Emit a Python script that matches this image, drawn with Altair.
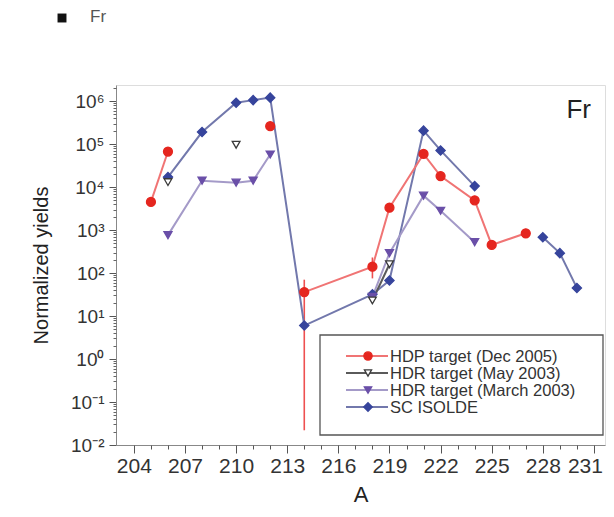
import altair as alt
import pandas as pd

# ---------------- data ----------------
A_HDP = [205, 206, 212, 214, 218, 219, 221, 222, 224, 225, 227]
Y_HDP = [4.5e3, 6.7e4, 2.6e5, 36, 140, 3.3e3, 5.9e4, 1.8e4, 4.9e3, 450, 840]
SEG_HDP = [0, 0, 1, 2, 2, 2, 2, 2, 2, 2, 2]

ERR_A = [214, 218]
ERR_LO = [0.022, 75]
ERR_HI = [70, 230]

A_MAY = [206, 210, 218, 219]
Y_MAY = [1.3e4, 9.6e4, 23, 160]
SEG_MAY = [0, 1, 2, 2]

A_MAR = [206, 208, 210, 211, 212, 218, 219, 221, 222, 224]
Y_MAR = [760, 1.4e4, 1.26e4, 1.4e4, 5.7e4, 28, 290, 6.3e3, 2.8e3, 520]
SEG_MAR = [0, 0, 0, 0, 0, 1, 1, 1, 1, 1]

A_SC = [206, 208, 210, 211, 212, 214, 218, 219, 221, 222, 224, 228, 229, 230]
Y_SC = [1.7e4, 1.9e5, 9.1e5, 1.05e6, 1.2e6, 6, 32, 67, 2.05e5, 7.1e4, 1.05e4, 680, 290, 45]
SEG_SC = [0, 0, 0, 0, 0, 0, 0, 0, 0, 0, 0, 1, 1, 1]

LABELS = ["HDP target (Dec 2005)", "HDR target (May 2003)",
          "HDR target (March 2003)", "SC ISOLDE"]
X_MAJOR = list(range(204, 232, 3))
X_MINOR = list(range(204, 232))
Y_MAJOR = [10.0 ** e for e in range(-2, 7)]
Y_MINOR = [k * 10.0 ** e for e in range(-2, 7) for k in range(2, 10) if k * 10.0 ** e <= 2.3e6]
SUP = ["⁻²", "⁻¹", "⁰", "¹", "²", "³", "⁴", "⁵", "⁶"]

# ---------------- styling ----------------
W, H = 489, 360
FONT = "Liberation Sans"
xs = alt.Scale(domain=[202.95, 231.65], nice=False, zero=False)
ys = alt.Scale(type="log", domain=[0.01, 2.36e6], nice=False)

STY = {
    LABELS[0]: dict(line="#f07474", pt="#e5261f", fill="#e5261f", shape="circle", size=80),
    LABELS[1]: dict(line="#5a5a5a", pt="#3a3a3a", fill="white", shape="triangle-down", size=60),
    LABELS[2]: dict(line="#a49ac8", pt="#6a4fa8", fill="#6a4fa8", shape="triangle-down", size=65),
    LABELS[3]: dict(line="#7278ac", pt="#36449c", fill="#36449c", shape="diamond", size=85),
}

def df(a, y, seg):
    return pd.DataFrame({"A": a, "Y": y, "seg": seg})

series = [
    (LABELS[3], df(A_SC, Y_SC, SEG_SC)),
    (LABELS[2], df(A_MAR, Y_MAR, SEG_MAR)),
    (LABELS[1], df(A_MAY, Y_MAY, SEG_MAY)),
    (LABELS[0], df(A_HDP, Y_HDP, SEG_HDP)),
]

y_label_expr = "'10' + " + "[" + ",".join("'%s'" % s for s in SUP) + "][round(log(datum.value)/LN10)+2]"

x_major = alt.Axis(values=X_MAJOR, tickSize=8, labelFontSize=21,
                   labelOffset={"condition": {"test": "datum.value == 231", "value": -9}, "value": 0},
                   labelColor="#333", labelFont=FONT, title="A", titleFont=FONT,
                   titleFontSize=22, titleFontWeight="normal", titleColor="#222",
                   titlePadding=8, domainColor="#888", tickColor="#555", grid=False,
                   labelPadding=2, orient="bottom")
y_major = alt.Axis(values=Y_MAJOR, labelExpr=y_label_expr, tickSize=7, labelFontSize=19,
                   labelColor="#333", labelFont=FONT, title="Normalized yields",
                   titleFont=FONT, titleFontSize=20, titleFontWeight="normal",
                   titleColor="#222", titlePadding=19, domainColor="#888",
                   tickColor="#555", grid=False, labelPadding=5, orient="left")
x_minor = alt.Axis(values=X_MINOR, tickSize=4, labels=False, domain=False, title=None,
                   tickColor="#555", grid=False, orient="bottom")
y_minor = alt.Axis(values=Y_MINOR, tickSize=3, labels=False, domain=False, title=None,
                   tickColor="#666", grid=False, orient="left")

layers = []

# axes layers (invisible points)
sc_df = series[0][1]
layers.append(alt.Chart(sc_df).mark_point(opacity=0).encode(
    x=alt.X("A:Q", scale=xs, axis=x_major),
    y=alt.Y("Y:Q", scale=ys, axis=y_major)))
layers.append(alt.Chart(sc_df).mark_point(opacity=0).encode(
    x=alt.X("A:Q", scale=xs, axis=x_minor),
    y=alt.Y("Y:Q", scale=ys, axis=y_minor)))

# error bars
err_df = pd.DataFrame({"A": ERR_A, "lo": ERR_LO, "hi": ERR_HI})
layers.append(alt.Chart(err_df).mark_rule(color="#ee5050", strokeWidth=1.6).encode(
    x=alt.X("A:Q", scale=xs, axis=None),
    y=alt.Y("lo:Q", scale=ys, axis=None),
    y2="hi:Q"))

for name, d in series:
    s = STY[name]
    layers.append(alt.Chart(d).mark_line(color=s["line"], strokeWidth=2).encode(
        x=alt.X("A:Q", scale=xs, axis=None),
        y=alt.Y("Y:Q", scale=ys, axis=None),
        detail="seg:N"))
for name, d in series:
    s = STY[name]
    layers.append(alt.Chart(d).mark_point(shape=s["shape"], size=s["size"], filled=False,
                                          fill=s["fill"], fillOpacity=1, stroke=s["pt"],
                                          strokeWidth=1.3, opacity=1).encode(
        x=alt.X("A:Q", scale=xs, axis=None),
        y=alt.Y("Y:Q", scale=ys, axis=None)))

# legend (drawn)
one = pd.DataFrame({"k": [0]})
LX0, LX1, LY0, LY1 = 204, 487, 250, 350
layers.append(alt.Chart(one).mark_rect(fill="white", stroke="#555", strokeWidth=1.3).encode(
    x=alt.value(LX0), x2=alt.value(LX1), y=alt.value(LY0), y2=alt.value(LY1)))
rows_y = [271, 288, 305, 322]
for name, ry in zip(LABELS, rows_y):
    s = STY[name]
    layers.append(alt.Chart(one).mark_rule(color=s["line"], strokeWidth=1.8).encode(
        x=alt.value(230), x2=alt.value(272), y=alt.value(ry)))
    layers.append(alt.Chart(one).mark_point(shape=s["shape"], size=s["size"] * 0.85, filled=False,
                                            fill=s["fill"], fillOpacity=1, stroke=s["pt"],
                                            strokeWidth=1.3, opacity=1).encode(
        x=alt.value(252), y=alt.value(ry)))
    layers.append(alt.Chart(one).mark_text(text=name, align="left", baseline="middle",
                                           font=FONT, fontSize=16.5, color="#333").encode(
        x=alt.value(274), y=alt.value(ry + 1)))

# in-plot element label and page heading
layers.append(alt.Chart(one).mark_text(text="Fr", align="right", baseline="middle",
                                       font=FONT, fontSize=26, color="#222").encode(
    x=alt.value(475), y=alt.value(25)))
layers.append(alt.Chart(one).mark_point(shape="square", size=80, filled=True,
                                        color="#111", opacity=1).encode(
    x=alt.value(-54), y=alt.value(-67)))
layers.append(alt.Chart(one).mark_text(text="Fr", align="left", baseline="middle",
                                       font=FONT, fontSize=17, color="#555").encode(
    x=alt.value(-26), y=alt.value(-68)))

chart = alt.layer(*layers).resolve_axis(x="independent", y="independent").properties(
    width=W, height=H,
    autosize=alt.AutoSizeParams(type="none"),
    padding={"left": 108, "top": 77, "right": 1, "bottom": 64},
).configure_view(stroke="#888", strokeWidth=1.5).configure(background="white")

chart.save("out.html", embed_options={"renderer": "svg", "actions": False})
